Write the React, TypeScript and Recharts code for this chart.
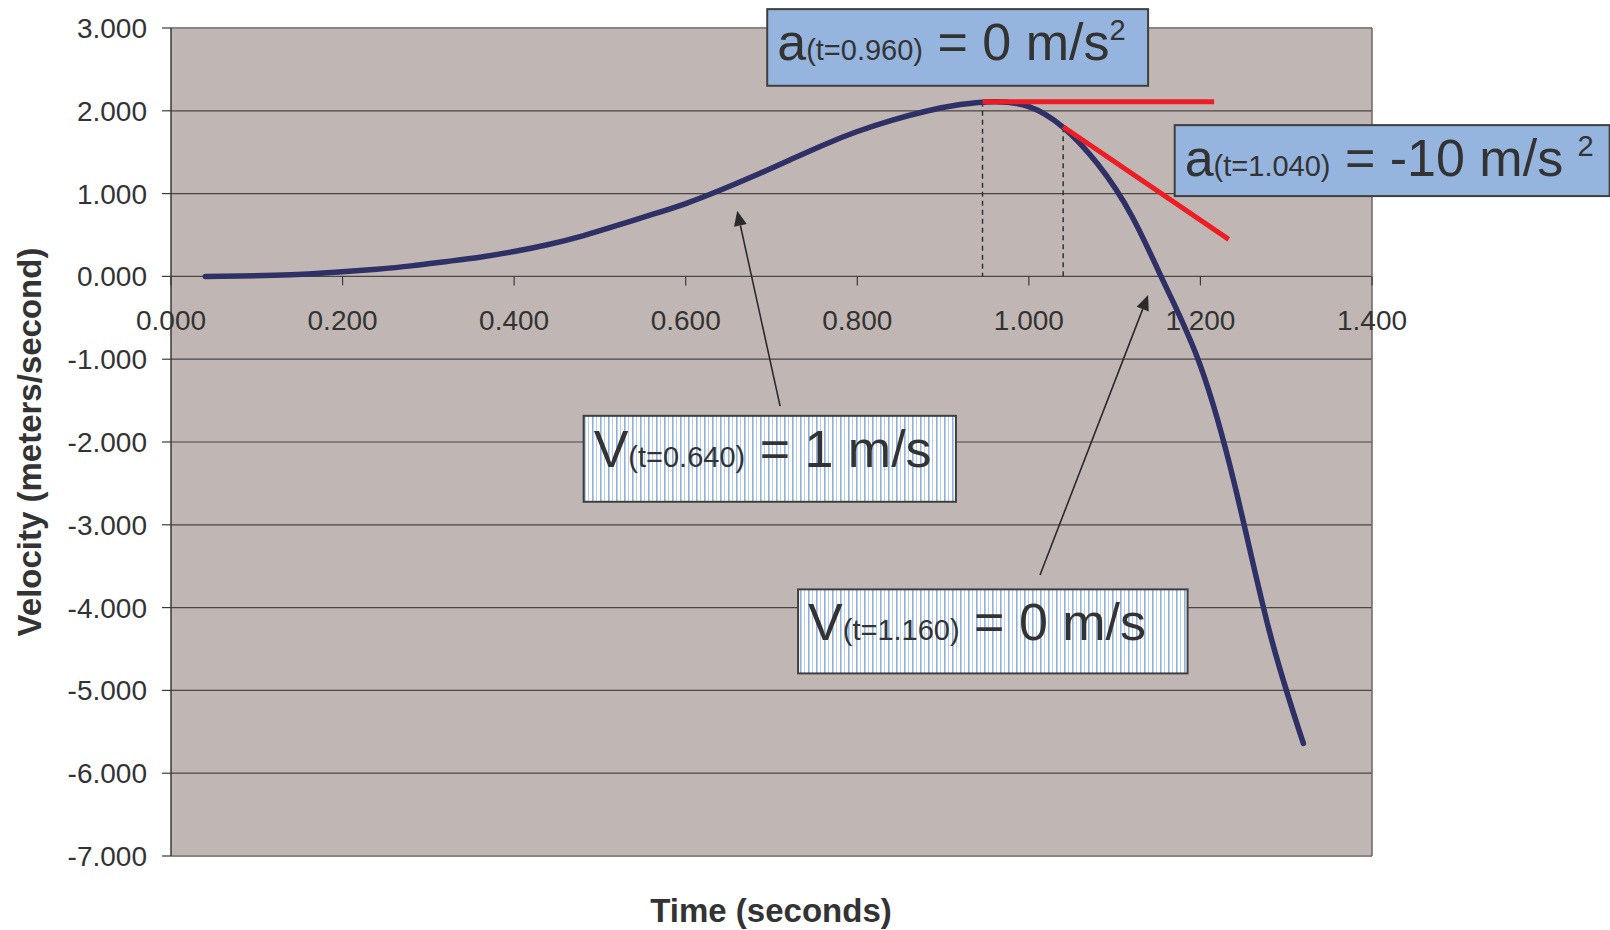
import { LineChart, Line, XAxis, YAxis, CartesianGrid, ReferenceLine } from "recharts";

const FONT = "'Liberation Sans', Arial, Helvetica, sans-serif";
const TEXT = "#333333";

// velocity readings, one every 0.04 s
const times = [
  0.04, 0.08, 0.12, 0.16, 0.2, 0.24, 0.28, 0.32, 0.36, 0.4, 0.44, 0.48, 0.52, 0.56, 0.6, 0.64, 0.68,
  0.72, 0.76, 0.8, 0.84, 0.88, 0.92, 0.96, 1.0, 1.04, 1.08, 1.12, 1.16, 1.2, 1.24, 1.28, 1.32,
];
const velocity = [
  0.0, 0.004, 0.013, 0.03, 0.055, 0.087, 0.127, 0.178, 0.232, 0.3, 0.385, 0.49, 0.615, 0.745, 0.88, 1.04, 1.215,
  1.4, 1.585, 1.75, 1.885, 1.995, 2.075, 2.11, 2.05, 1.8, 1.36, 0.73, -0.13, -1.08, -2.52, -4.27, -5.64,
];

const xTicks = [0, 0.2, 0.4, 0.6, 0.8, 1.0, 1.2, 1.4];
const yTicks = [-7, -6, -5, -4, -3, -2, -1, 0, 1, 2, 3];

// tangent lines (red) and the dashed drop lines under them
const tangents = [
  [{ x: 0.946, y: 2.11 }, { x: 1.216, y: 2.11 }],
  [{ x: 1.04, y: 1.807 }, { x: 1.233, y: 0.447 }],
];
const dropLines = [
  [{ x: 0.946, y: 2.11 }, { x: 0.946, y: 0 }],
  [{ x: 1.04, y: 1.8 }, { x: 1.04, y: 0 }],
];

// callout arrows: tail -> tip
const arrows = [
  [{ x: 0.71, y: -1.566 }, { x: 0.66, y: 0.792 }],
  [{ x: 1.013, y: -3.607 }, { x: 1.139, y: -0.226 }],
];

// callout boxes (corners in data units)
const boxes = [
  { x1: 0.695, x2: 1.139, y1: 3.228, y2: 2.302, main: "a", sub: "(t=0.960)", rest: " = 0 m/s", sup: "2", hatched: false },
  { x1: 1.17, x2: 1.677, y1: 1.827, y2: 0.97, main: "a", sub: "(t=1.040)", rest: " = -10 m/s ", sup: "2", hatched: false },
  { x1: 0.481, x2: 0.915, y1: -1.684, y2: -2.722, main: "V", sub: "(t=0.640)", rest: " = 1 m/s", sup: "", hatched: true },
  { x1: 0.731, x2: 1.185, y1: -3.78, y2: -4.795, main: "V", sub: "(t=1.160)", rest: " = 0 m/s", sup: "", hatched: true },
];

const data = times.map((t, i) => ({ t, v: velocity[i] }));

const WIDTH = 1610;
const HEIGHT = 930;
const TOP = 28;
const X_AXIS_H = 74;
const PLOT_H = HEIGHT - TOP - X_AXIS_H;
const Y_MIN = yTicks[0];
const Y_MAX = yTicks[yTicks.length - 1];
const ZERO_Y = TOP + (PLOT_H * Y_MAX) / (Y_MAX - Y_MIN);

function XTick(props: any) {
  const { x, payload } = props;
  return (
    <g>
      <line x1={x} x2={x} y1={ZERO_Y} y2={ZERO_Y + 9} stroke="#3a3a3a" strokeWidth={1.2} />
      <text x={x} y={ZERO_Y + 54} textAnchor="middle" fontSize={28} fill={TEXT} fontFamily={FONT}>
        {Number(payload.value).toFixed(3)}
      </text>
    </g>
  );
}

function XTitle() {
  return (
    <text x={771} y={922} textAnchor="middle" fontSize={33} fontWeight="bold" fill={TEXT} fontFamily={FONT}>
      Time (seconds)
    </text>
  );
}

function YTitle() {
  const cx = 41;
  const cy = TOP + PLOT_H / 2;
  return (
    <text
      x={cx}
      y={cy}
      transform={`rotate(-90 ${cx} ${cy})`}
      textAnchor="middle"
      fontSize={33}
      fontWeight="bold"
      fill={TEXT}
      fontFamily={FONT}
    >
      Velocity (meters/second)
    </text>
  );
}

function ArrowShape(props: any) {
  const { x1, y1, x2, y2 } = props;
  const ang = Math.atan2(y2 - y1, x2 - x1);
  const L = 15;
  const W = 6.5;
  const bx = x2 - L * Math.cos(ang);
  const by = y2 - L * Math.sin(ang);
  const pts = `${x2},${y2} ${bx + W * Math.sin(ang)},${by - W * Math.cos(ang)} ${bx - W * Math.sin(ang)},${by + W * Math.cos(ang)}`;
  return (
    <g>
      <line x1={x1} y1={y1} x2={bx} y2={by} stroke="#2b2b2b" strokeWidth={1.6} />
      <polygon points={pts} fill="#2b2b2b" />
    </g>
  );
}

function BoxShape(props: any) {
  const { x1, y1, x2, y2, b } = props;
  const x = Math.min(x1, x2);
  const y = Math.min(y1, y2);
  const width = Math.abs(x2 - x1);
  const height = Math.abs(y2 - y1);
  return (
    <g>
      <rect
        x={x}
        y={y}
        width={width}
        height={height}
        fill={b.hatched ? "url(#vstripe)" : "#95b4de"}
        stroke="#3f3f3f"
        strokeWidth={2}
      />
      <text x={x + 10} y={y + 51} fontFamily={FONT} fill={TEXT} fontSize={52} style={{ whiteSpace: "pre" }}>
        {b.main}
        <tspan fontSize={29}>{b.sub}</tspan>
        <tspan fontSize={52}>{b.rest}</tspan>
        {b.sup ? (
          <tspan fontSize={29} dy={-20}>
            {b.sup}
          </tspan>
        ) : null}
      </text>
    </g>
  );
}

export default function App() {
  return (
    <div style={{ position: "absolute", left: 0, top: 0, background: "#ffffff" }}>
      <LineChart width={WIDTH} height={HEIGHT} data={data} margin={{ top: TOP, right: 238, bottom: 0, left: 0 }}>
        <defs>
          <pattern id="vstripe" width="8" height="8" patternUnits="userSpaceOnUse">
            <rect width="8" height="8" fill="#ffffff" />
            <rect x="0" width="1.6" height="8" fill="#8db0dc" />
            <rect x="4" width="1" height="8" fill="#b7cdea" />
          </pattern>
        </defs>
        <CartesianGrid fill="#c0b7b4" horizontal={false} vertical={false} />
        {yTicks
          .filter((v) => v > Y_MIN && v < Y_MAX)
          .map((v) => (
            <ReferenceLine key={`g${v}`} y={v} stroke="#4a4646" strokeWidth={1.2} />
          ))}
        <ReferenceLine y={Y_MAX} stroke="#8d8381" strokeWidth={2} />
        <ReferenceLine y={Y_MIN} stroke="#8d8381" strokeWidth={2} />
        <ReferenceLine x={xTicks[xTicks.length - 1]} stroke="#6e6664" strokeWidth={1.5} />
        <XAxis
          type="number"
          dataKey="t"
          domain={[xTicks[0], xTicks[xTicks.length - 1]]}
          ticks={xTicks}
          height={X_AXIS_H}
          axisLine={false}
          tickLine={false}
          tick={<XTick />}
          interval={0}
          label={<XTitle />}
        />
        <YAxis
          type="number"
          domain={[Y_MIN, Y_MAX]}
          ticks={yTicks}
          width={171}
          interval={0}
          axisLine={{ stroke: "#3a3a3a", strokeWidth: 1.5 }}
          tickLine={{ stroke: "#3a3a3a", strokeWidth: 1.2 }}
          tickSize={9}
          tickMargin={15}
          tick={{ fontSize: 28, fill: TEXT, fontFamily: FONT }}
          tickFormatter={(v: number) => v.toFixed(3)}
          label={<YTitle />}
        />
        {dropLines.map((seg, i) => (
          <ReferenceLine key={`d${i}`} segment={seg} stroke="#333333" strokeWidth={1.5} strokeDasharray="5 4" />
        ))}
        <Line
          type="natural"
          dataKey="v"
          stroke="#2f3066"
          strokeWidth={5.5}
          strokeLinecap="round"
          dot={false}
          activeDot={false}
          isAnimationActive={false}
        />
        {tangents.map((seg, i) => (
          <ReferenceLine key={`t${i}`} segment={seg} stroke="#ee1d25" strokeWidth={5} />
        ))}
        {arrows.map((seg, i) => (
          <ReferenceLine key={`a${i}`} segment={seg} shape={<ArrowShape />} />
        ))}
        {boxes.map((b, i) => (
          <ReferenceLine
            key={`b${i}`}
            segment={[
              { x: b.x1, y: b.y1 },
              { x: b.x2, y: b.y2 },
            ]}
            ifOverflow="visible"
            shape={(p: any) => <BoxShape {...p} b={b} />}
          />
        ))}
      </LineChart>
    </div>
  );
}
